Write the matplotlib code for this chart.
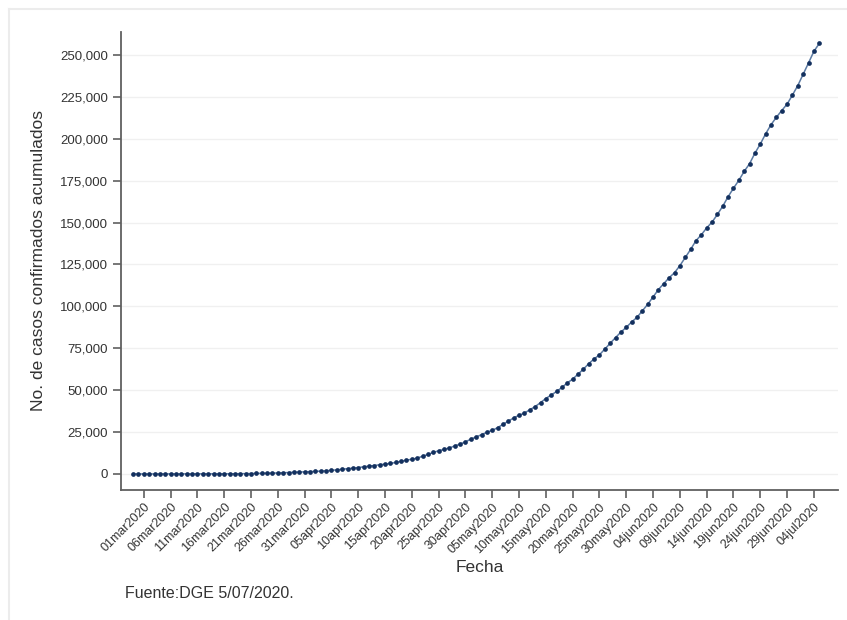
import numpy as np
import pandas as pd
import matplotlib
import matplotlib.pyplot as plt
import matplotlib.dates as mdates
from matplotlib.lines import Line2D
from matplotlib.ticker import FuncFormatter

matplotlib.use('Agg')
plt.rcParams['font.family'] = ['Liberation Sans', 'DejaVu Sans']

# casos confirmados acumulados, desde 28feb2020 hasta 05jul2020
start_date = '2020-02-28'
casos = [
    2, 4, 5, 5, 5, 5, 5, 6, 7, 7, 7, 7, 8, 12, 26, 41, 53, 82, 93, 118,
    164, 203, 251, 316, 367, 405, 475, 585, 717, 848, 993, 1094, 1215,
    1378, 1510, 1688, 1890, 2143, 2439, 2785, 3181, 3441, 3844, 4219, 4661,
    5014, 5399, 5847, 6297, 6875, 7497, 8261, 8772, 9501, 10544, 11633,
    12872, 13842, 14677, 15529, 16752, 17799, 19224, 20739, 22088, 23471,
    24905, 26025, 27634, 29616, 31522, 33460, 35022, 36327, 38324, 40186,
    42595, 45032, 47144, 49219, 51633, 54346, 56594, 59567, 62527, 65856,
    68620, 71105, 74560, 78023, 81400, 84627, 87512, 90664, 93435, 97326,
    101238, 105680, 110026, 113619, 117103, 120102, 124301, 129184, 133974,
    139196, 142690, 146837, 150264, 154863, 159793, 165455, 170485, 175202,
    180545, 185122, 191410, 196847, 202951, 208392, 212802, 216852, 220657,
    226089, 231770, 238511, 245251, 252165, 256848,
]
y_ticks = [0, 25000, 50000, 75000, 100000, 125000, 150000, 175000, 200000, 225000, 250000]

fechas = pd.date_range(start_date, periods=len(casos), freq='D')
x_ticks = pd.date_range('2020-03-01', '2020-07-04', freq='5D')

fig = plt.figure(figsize=(8.47, 6.2), dpi=100)
ax = fig.add_axes([0.1429, 0.2097, 0.8465, 0.7387])

ax.plot(fechas, casos, color='#5b7aa3', linewidth=1.1, zorder=2)
ax.plot(fechas, casos, linestyle='none', marker='o', markersize=3.4,
        color='#13305e', markeredgewidth=0, zorder=3)

ax.set_xlim(pd.Timestamp('2020-02-25 18:00'), pd.Timestamp('2020-07-08 12:00'))
ax.set_ylim(-9550, 263700)

ax.set_yticks(y_ticks)
ax.yaxis.set_major_formatter(FuncFormatter(lambda v, p: f'{int(v):,}'))
ax.set_xticks(x_ticks)
ax.set_xticklabels([d.strftime('%d%b%Y').lower() for d in x_ticks],
                   rotation=45, ha='right', rotation_mode='anchor')

ax.grid(axis='y', color='#f0f0f0', linewidth=1.0)
ax.set_axisbelow(True)
for s in ['top', 'right']:
    ax.spines[s].set_visible(False)
for s in ['left', 'bottom']:
    ax.spines[s].set_color('#606060')
    ax.spines[s].set_linewidth(1.3)
ax.tick_params(axis='both', colors='#606060', length=6, width=1.2,
               labelcolor='#333333', labelsize=9.5)
ax.tick_params(axis='x', labelsize=9, pad=2)

ax.set_xlabel('Fecha', fontsize=12.5, color='#333333', labelpad=3)
ax.set_ylabel('No. de casos confirmados acumulados', fontsize=12.5,
              color='#333333', labelpad=10)

fig.text(0.148, 0.036, 'Fuente:DGE 5/07/2020.', fontsize=11.5, color='#333333')

# marco tenue de la captura
fig.add_artist(Line2D([0.011, 0.011], [0.0, 0.985], color='#ececec', linewidth=1.5))
fig.add_artist(Line2D([0.011, 1.0], [0.985, 0.985], color='#ececec', linewidth=1.5))

plt.savefig('out.png', dpi=100)
plt.close()
